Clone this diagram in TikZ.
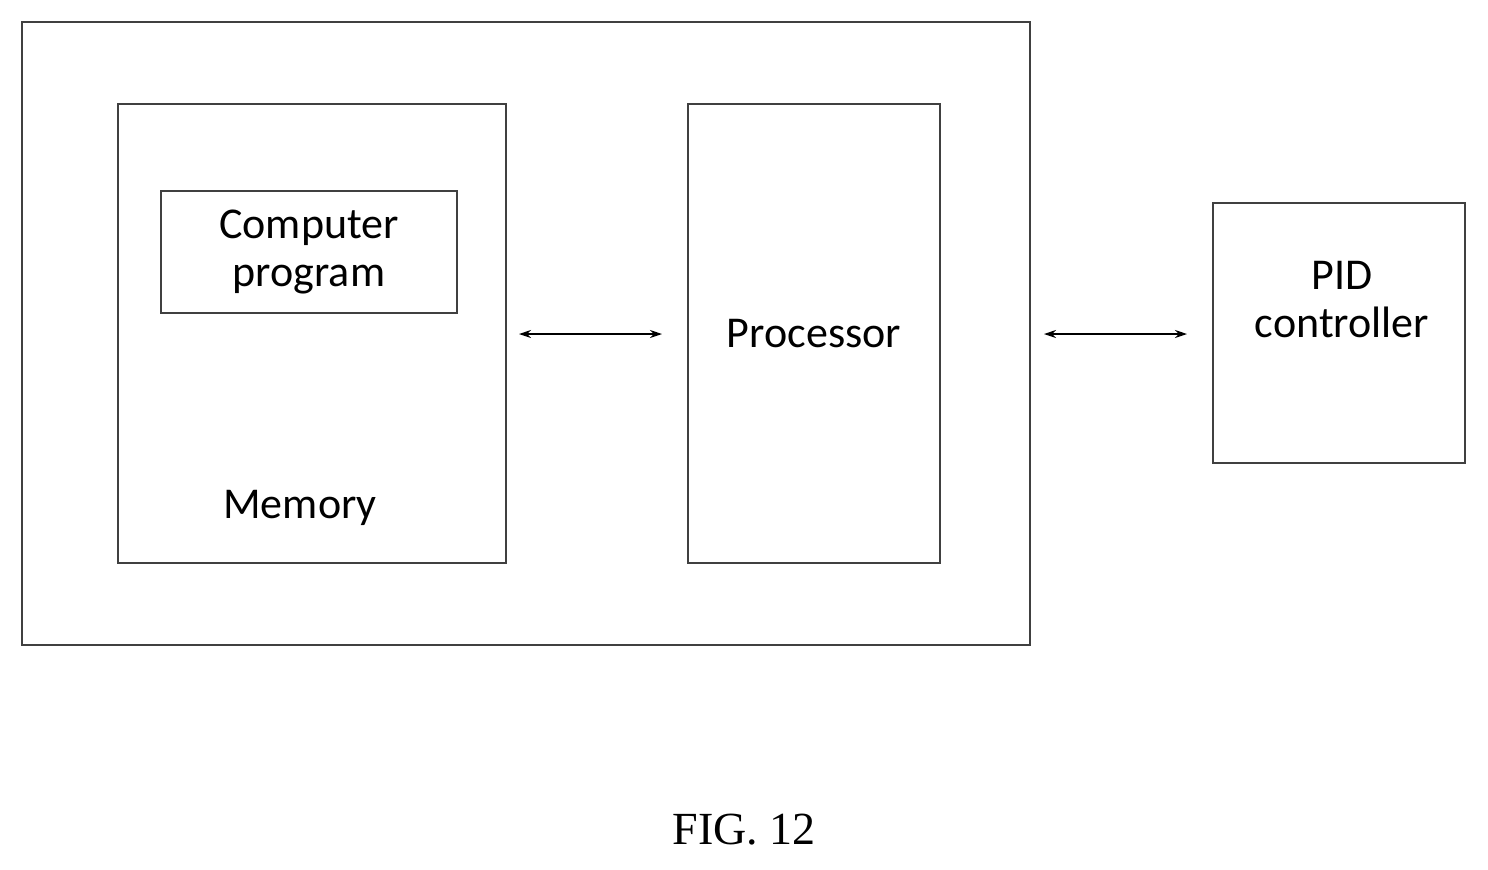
\documentclass[tikz,border=0pt]{standalone}
\usepackage{fontspec}
\setmainfont{Carlito}
\newfontfamily\capfont{Liberation Serif}
\usetikzlibrary{arrows.meta,positioning}
\tikzset{box/.style={draw=black!75,line width=1pt,inner sep=0pt},
         link/.style={{Stealth[length=6pt,width=4pt]}-{Stealth[length=6pt,width=4pt]},line width=0.7pt},
         lbl/.style={font=\fontsize{22}{24}\selectfont,align=center}}
\begin{document}
\begin{tikzpicture}[x=0.5pt,y=-0.5pt]
  \useasboundingbox (0,0) rectangle (1488,869);
  % boxes
  \node[box,minimum width=504pt,minimum height=311.5pt] (dev) at (526,333.5) {};
  \node[box,minimum width=194pt,minimum height=229.5pt] (mem) at (312,333.5) {};
  \node[box,minimum width=148pt,minimum height=61pt,lbl] (prog) at (309,252) {Computer\\program};
  \node[lbl] (memtxt) at (300,508) {Memory};
  \node[box,minimum width=126pt,minimum height=229.5pt,lbl] (proc) at (814,333.5) {Processor};
  \node[box,minimum width=126pt,minimum height=130pt] (pid) at (1339,333) {};
  \node[lbl] (pidtxt) at (1342,300) {PID\\controller};
  % links
  \draw[link,shorten <=6pt,shorten >=12.5pt] (mem.east |- 0,334) -- (proc.west |- 0,334);
  \draw[link,shorten <=51.5pt,shorten >=12.5pt] (proc.east |- 0,334) -- (pid.west |- 0,334);
  \node[font=\capfont\fontsize{23}{23}\selectfont] (fig) at (744,830) {FIG. 12};
\end{tikzpicture}
\end{document}
